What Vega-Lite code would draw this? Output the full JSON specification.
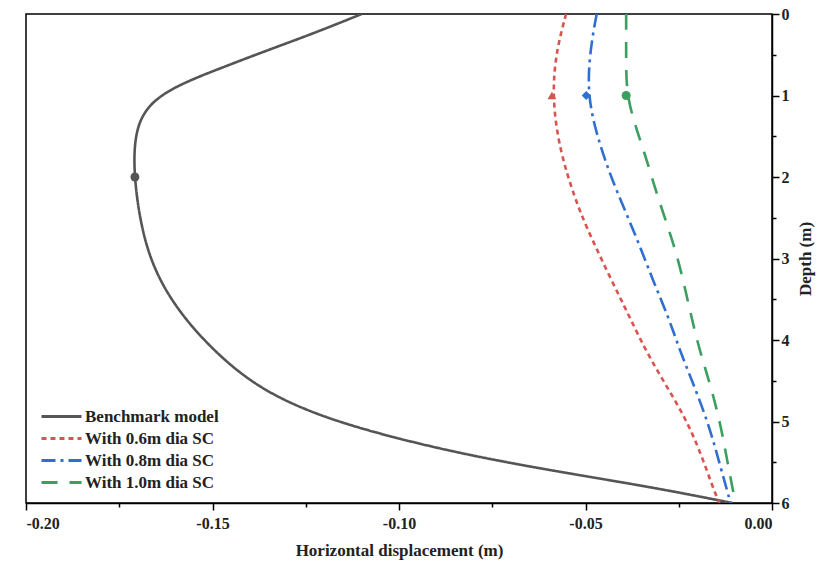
{
  "$schema": "https://vega.github.io/schema/vega-lite/v6.json",
  "width": 746,
  "height": 489,
  "autosize": {"type": "none"},
  "padding": {"left": 26, "top": 14, "right": 45, "bottom": 60},
  "background": "white",
  "config": {
    "view": {"stroke": "black", "strokeWidth": 1.5},
    "font": "Liberation Serif",
    "axis": {
      "domainColor": "black",
      "domainWidth": 1.5,
      "tickColor": "black",
      "tickWidth": 1.5,
      "grid": false,
      "labelFont": "Liberation Serif",
      "labelFontWeight": "bold",
      "labelFontSize": 16,
      "labelColor": "#222222",
      "titleFont": "Liberation Serif",
      "titleFontWeight": "bold",
      "titleFontSize": 17,
      "titleColor": "#222222"
    },
    "legend": {
      "labelFont": "Liberation Serif",
      "labelFontWeight": "bold",
      "labelFontSize": 17,
      "labelColor": "#222222"
    }
  },
  "datasets": {
    "curves": [
      {"series": "Benchmark model", "depth": 0, "disp": -0.1100},
      {"series": "Benchmark model", "depth": 0.24, "disp": -0.1230},
      {"series": "Benchmark model", "depth": 0.44, "disp": -0.1350},
      {"series": "Benchmark model", "depth": 0.65, "disp": -0.1470},
      {"series": "Benchmark model", "depth": 0.85, "disp": -0.1582},
      {"series": "Benchmark model", "depth": 1.06, "disp": -0.1662},
      {"series": "Benchmark model", "depth": 1.38, "disp": -0.1708},
      {"series": "Benchmark model", "depth": 2.0, "disp": -0.1713},
      {"series": "Benchmark model", "depth": 2.9, "disp": -0.1681},
      {"series": "Benchmark model", "depth": 3.51, "disp": -0.1614},
      {"series": "Benchmark model", "depth": 4.0, "disp": -0.1526},
      {"series": "Benchmark model", "depth": 4.45, "disp": -0.1419},
      {"series": "Benchmark model", "depth": 4.77, "disp": -0.1301},
      {"series": "Benchmark model", "depth": 5.06, "disp": -0.1132},
      {"series": "Benchmark model", "depth": 5.37, "disp": -0.0864},
      {"series": "Benchmark model", "depth": 5.6, "disp": -0.0596},
      {"series": "Benchmark model", "depth": 5.8, "disp": -0.0328},
      {"series": "Benchmark model", "depth": 6.0, "disp": -0.0106},
      {"series": "With 0.6m dia SC", "depth": 0, "disp": -0.0552},
      {"series": "With 0.6m dia SC", "depth": 0.44, "disp": -0.0578},
      {"series": "With 0.6m dia SC", "depth": 1.0, "disp": -0.0590},
      {"series": "With 0.6m dia SC", "depth": 1.67, "disp": -0.0570},
      {"series": "With 0.6m dia SC", "depth": 2.28, "disp": -0.0527},
      {"series": "With 0.6m dia SC", "depth": 2.61, "disp": -0.0498},
      {"series": "With 0.6m dia SC", "depth": 3.14, "disp": -0.0444},
      {"series": "With 0.6m dia SC", "depth": 3.63, "disp": -0.0391},
      {"series": "With 0.6m dia SC", "depth": 4.1, "disp": -0.0342},
      {"series": "With 0.6m dia SC", "depth": 4.49, "disp": -0.0293},
      {"series": "With 0.6m dia SC", "depth": 4.9, "disp": -0.0239},
      {"series": "With 0.6m dia SC", "depth": 5.31, "disp": -0.0197},
      {"series": "With 0.6m dia SC", "depth": 5.92, "disp": -0.0150},
      {"series": "With 0.6m dia SC", "depth": 6.0, "disp": -0.0140},
      {"series": "With 0.8m dia SC", "depth": 0, "disp": -0.0470},
      {"series": "With 0.8m dia SC", "depth": 0.36, "disp": -0.0485},
      {"series": "With 0.8m dia SC", "depth": 1.0, "disp": -0.0498},
      {"series": "With 0.8m dia SC", "depth": 1.67, "disp": -0.0458},
      {"series": "With 0.8m dia SC", "depth": 2.16, "disp": -0.0418},
      {"series": "With 0.8m dia SC", "depth": 2.73, "disp": -0.0364},
      {"series": "With 0.8m dia SC", "depth": 3.26, "disp": -0.0320},
      {"series": "With 0.8m dia SC", "depth": 3.75, "disp": -0.0275},
      {"series": "With 0.8m dia SC", "depth": 4.12, "disp": -0.0248},
      {"series": "With 0.8m dia SC", "depth": 4.57, "disp": -0.0208},
      {"series": "With 0.8m dia SC", "depth": 5.06, "disp": -0.0168},
      {"series": "With 0.8m dia SC", "depth": 5.51, "disp": -0.0141},
      {"series": "With 0.8m dia SC", "depth": 6.0, "disp": -0.0111},
      {"series": "With 1.0m dia SC", "depth": 0, "disp": -0.0391},
      {"series": "With 1.0m dia SC", "depth": 0.5, "disp": -0.0391},
      {"series": "With 1.0m dia SC", "depth": 1.0, "disp": -0.0391},
      {"series": "With 1.0m dia SC", "depth": 1.46, "disp": -0.0360},
      {"series": "With 1.0m dia SC", "depth": 1.83, "disp": -0.0333},
      {"series": "With 1.0m dia SC", "depth": 2.2, "disp": -0.0310},
      {"series": "With 1.0m dia SC", "depth": 2.9, "disp": -0.0257},
      {"series": "With 1.0m dia SC", "depth": 3.43, "disp": -0.0230},
      {"series": "With 1.0m dia SC", "depth": 3.88, "disp": -0.0208},
      {"series": "With 1.0m dia SC", "depth": 4.25, "disp": -0.0186},
      {"series": "With 1.0m dia SC", "depth": 4.65, "disp": -0.0159},
      {"series": "With 1.0m dia SC", "depth": 5.08, "disp": -0.0136},
      {"series": "With 1.0m dia SC", "depth": 5.51, "disp": -0.0119},
      {"series": "With 1.0m dia SC", "depth": 6.0, "disp": -0.0098}
    ],
    "markers": [
      {"curve": "Benchmark model", "depth": 2.0, "disp": -0.1708},
      {"curve": "With 0.6m dia SC", "depth": 1.0, "disp": -0.0590},
      {"curve": "With 0.8m dia SC", "depth": 1.0, "disp": -0.0498},
      {"curve": "With 1.0m dia SC", "depth": 1.0, "disp": -0.0391}
    ]
  },
  "layer": [
    {
      "data": {"name": "curves"},
      "mark": {"type": "line", "interpolate": "basis", "strokeWidth": 2.6, "clip": true},
      "encoding": {
        "x": {
          "field": "disp", "type": "quantitative",
          "scale": {"domain": [-0.2, 0], "nice": false, "zero": false},
          "axis": {
            "title": "Horizontal displacement (m)",
            "values": [-0.2, -0.175, -0.15, -0.125, -0.1, -0.075, -0.05, -0.025, 0],
            "labelExpr": "abs(datum.value*20 - round(datum.value*20)) > 0.01 ? '' : replace(format(datum.value, '.2f'), '\u2212', '-')",
            "tickSize": {"condition": {"test": "abs(datum.value*20 - round(datum.value*20)) > 0.01", "value": 4}, "value": 7},
            "labelPadding": 5,
            "titlePadding": 11,
            "labelOverlap": false
          }
        },
        "y": {
          "field": "depth", "type": "quantitative",
          "scale": {"domain": [0, 6], "reverse": true, "nice": false},
          "axis": {
            "orient": "right",
            "title": "Depth (m)",
            "titleAngle": 270,
            "values": [0, 0.5, 1, 1.5, 2, 2.5, 3, 3.5, 4, 4.5, 5, 5.5, 6],
            "labelExpr": "abs(datum.value - round(datum.value)) > 0.01 ? '' : format(datum.value, 'd')",
            "tickSize": {"condition": {"test": "abs(datum.value - round(datum.value)) > 0.01", "value": 4}, "value": 7},
            "labelPadding": 2,
            "titlePadding": 25,
            "labelOverlap": false
          }
        },
        "order": {"field": "depth", "type": "quantitative"},
        "color": {
          "field": "series", "type": "nominal",
          "scale": {
            "domain": ["Benchmark model", "With 0.6m dia SC", "With 0.8m dia SC", "With 1.0m dia SC"],
            "range": ["#555555", "#d9534f", "#2f6fcf", "#3a9f5f"]
          },
          "legend": {
            "title": null,
            "orient": "none",
            "legendX": 24,
            "legendY": 391,
            "symbolType": "M-2,0H2",
            "symbolSize": 400,
            "symbolStrokeWidth": 3,
            "rowPadding": 2,
            "labelOffset": 12,
            "padding": 0
          }
        },
        "strokeDash": {
          "field": "series", "type": "nominal",
          "scale": {
            "domain": ["Benchmark model", "With 0.6m dia SC", "With 0.8m dia SC", "With 1.0m dia SC"],
            "range": [[1, 0], [5, 4], [14, 5, 3, 5], [16, 12]]
          },
          "legend": {
            "title": null,
            "orient": "none",
            "legendX": 24,
            "legendY": 391,
            "symbolType": "M-2,0H2",
            "symbolSize": 400,
            "symbolStrokeWidth": 3,
            "rowPadding": 2,
            "labelOffset": 12,
            "padding": 0
          }
        }
      }
    },
    {
      "data": {"name": "markers"},
      "transform": [{"filter": "datum.curve === 'Benchmark model' || datum.curve === 'With 1.0m dia SC'"}],
      "mark": {"type": "point", "filled": true, "size": 80, "opacity": 1, "shape": "circle"},
      "encoding": {
        "x": {"field": "disp", "type": "quantitative"},
        "y": {"field": "depth", "type": "quantitative"},
        "fill": {"condition": {"test": "datum.curve === 'Benchmark model'", "value": "#555555"}, "value": "#3a9f5f"}
      }
    },
    {
      "data": {"name": "markers"},
      "transform": [{"filter": "datum.curve === 'With 0.6m dia SC'"}],
      "mark": {"type": "point", "filled": true, "size": 80, "opacity": 1, "shape": "triangle-up", "color": "#d9534f"},
      "encoding": {
        "x": {"field": "disp", "type": "quantitative"},
        "y": {"field": "depth", "type": "quantitative"}
      }
    },
    {
      "data": {"name": "markers"},
      "transform": [{"filter": "datum.curve === 'With 0.8m dia SC'"}],
      "mark": {"type": "point", "filled": true, "size": 80, "opacity": 1, "shape": "diamond", "color": "#2f6fcf"},
      "encoding": {
        "x": {"field": "disp", "type": "quantitative"},
        "y": {"field": "depth", "type": "quantitative"}
      }
    }
  ]
}
